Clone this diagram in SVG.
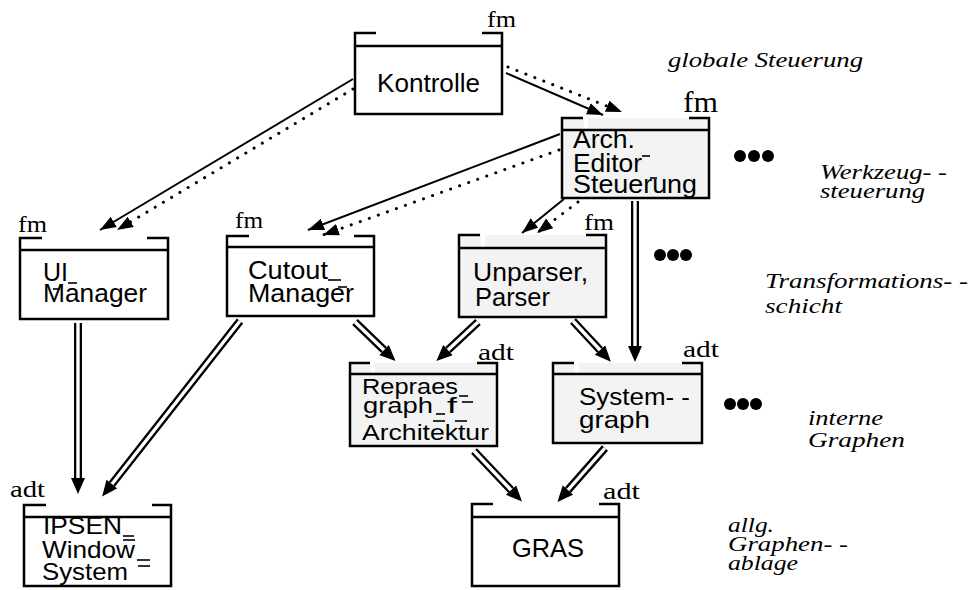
<svg xmlns="http://www.w3.org/2000/svg" width="972" height="590" viewBox="0 0 972 590">
  <defs>
    <style>
      .box { fill: none; stroke: #000; stroke-width: 2.5; }
      .bg-white { fill: #fff; }
      .bg-gray { fill: #f3f3f3; }
      .lbl { font-family: "Liberation Sans", Arial, sans-serif; font-size: 25px; fill: #000; }
      .lbl-s { font-family: "Liberation Sans", Arial, sans-serif; font-size: 22px; fill: #000; }
      .lbl-m { font-family: "Liberation Sans", Arial, sans-serif; font-size: 24px; fill: #000; }
      .tag { font-family: "Liberation Serif", "Times New Roman", serif; font-size: 24px; fill: #000; }
      .tag-l { font-family: "Liberation Serif", "Times New Roman", serif; font-size: 29px; fill: #000; }
      .layer { font-family: "Liberation Serif", "Times New Roman", serif; font-style: italic; font-size: 22px; fill: #000; }
      .mark { stroke: #000; stroke-width: 1.6; }
      .solid { fill: none; stroke: #000; stroke-width: 2; marker-end: url(#head); }
      .dotted { fill: none; stroke: #000; stroke-width: 3; stroke-linecap: round; stroke-dasharray: 0.1 9.5; marker-end: url(#head); }
      .dbl-out { fill: none; stroke: #000; stroke-width: 8; marker-end: url(#dhead); }
      .dbl-in { fill: none; stroke: #fff; stroke-width: 3.4; }
      .dot { fill: #000; }
    </style>
    <marker id="head" markerUnits="userSpaceOnUse" markerWidth="18" markerHeight="14" refX="16" refY="6" orient="auto">
      <path d="M0,0 L16,6 L0,12 z" fill="#000"/>
    </marker>
    <marker id="dhead" markerUnits="userSpaceOnUse" markerWidth="18" markerHeight="16" refX="0" refY="7" orient="auto">
      <path d="M0,0 L16,7 L0,14 z" fill="#000"/>
    </marker>
  </defs>

  <rect width="972" height="590" fill="#fff"/>

  <!-- connectors -->
  <g id="connectors">
    <!-- control flow (solid) and data flow (dotted) -->
    <path class="solid" d="M506,73 L603,115"/>
    <path class="dotted" d="M508,67 L622,112"/>
    <path class="solid" d="M353,79 L100,230"/>
    <path class="dotted" d="M353,89 L117,230"/>
    <path class="solid" d="M560,134 L308,230"/>
    <path class="dotted" d="M559,150 L323,235"/>
    <path class="solid" d="M564,199 L522,233"/>
    <path class="dotted" d="M578,202 L537,233"/>

    <!-- usage relations (double lines) -->
    <path class="dbl-out" d="M635,201 L635,346"/>
    <path class="dbl-in" d="M635,201 L635,346"/>

    <path class="dbl-out" d="M355,322 L384,350"/>
    <path class="dbl-in" d="M355,322 L384,350"/>

    <path class="dbl-out" d="M478,322 L448,350"/>
    <path class="dbl-in" d="M478,322 L448,350"/>

    <path class="dbl-out" d="M573,321 L600,350"/>
    <path class="dbl-in" d="M573,321 L600,350"/>

    <path class="dbl-out" d="M78,323 L78,478"/>
    <path class="dbl-in" d="M78,323 L78,478"/>

    <path class="dbl-out" d="M240,321 L112,484"/>
    <path class="dbl-in" d="M240,321 L112,484"/>

    <path class="dbl-out" d="M474,451 L511,490"/>
    <path class="dbl-in" d="M474,451 L511,490"/>

    <path class="dbl-out" d="M605,448 L568,490"/>
    <path class="dbl-in" d="M605,448 L568,490"/>
  </g>

  <!-- Kontrolle -->
  <g id="kontrolle">
    <rect class="bg-white" x="355" y="33" width="147" height="81"/>
    <path class="box" d="M376,33 H355 V114 H502 V33 H482 M355,46 H502"/>
    <text class="lbl" x="377" y="92" textLength="103" lengthAdjust="spacingAndGlyphs">Kontrolle</text>
    <text class="tag" x="487" y="27" textLength="29" lengthAdjust="spacingAndGlyphs">fm</text>
  </g>

  <!-- Arch. Editor Steuerung -->
  <g id="arch-editor">
    <rect class="bg-gray" x="562" y="118" width="147" height="80"/>
    <rect fill="#fff" x="584" y="117" width="4" height="12"/>
    <path class="box" d="M583,118 H562 V198 H709 V118 H689 M562,130 H709"/>
    <text class="lbl" x="573" y="148" textLength="62" lengthAdjust="spacingAndGlyphs">Arch.</text>
    <text class="lbl" x="573" y="172" textLength="69" lengthAdjust="spacingAndGlyphs">Editor</text>
    <text class="lbl" x="573" y="193" textLength="124" lengthAdjust="spacingAndGlyphs">Steuerung</text>
    <line class="mark" x1="642" y1="156" x2="650" y2="156"/>
    <line class="mark" x1="650" y1="178" x2="657" y2="178"/>
    <text class="tag-l" x="683" y="112" textLength="35" lengthAdjust="spacingAndGlyphs">fm</text>
  </g>

  <!-- UI Manager -->
  <g id="ui-manager">
    <rect class="bg-white" x="20" y="238" width="148" height="81"/>
    <path class="box" d="M42,238 H20 V319 H168 V238 H147 M20,250 H168"/>
    <text class="lbl" x="43" y="281" textLength="25" lengthAdjust="spacingAndGlyphs">UI</text>
    <line class="mark" x1="68" y1="283" x2="77" y2="283"/>
    <text class="lbl" x="43" y="302" textLength="104" lengthAdjust="spacingAndGlyphs">Manager</text>
    <line class="mark" x1="53" y1="289" x2="60" y2="289"/>
    <text class="tag" x="18" y="232" textLength="29" lengthAdjust="spacingAndGlyphs">fm</text>
  </g>

  <!-- Cutout Manager -->
  <g id="cutout-manager">
    <rect class="bg-white" x="227" y="236" width="147" height="80"/>
    <path class="box" d="M249,236 H227 V316 H374 V236 H354 M227,247 H374"/>
    <text class="lbl" x="248" y="279" textLength="80" lengthAdjust="spacingAndGlyphs">Cutout</text>
    <line class="mark" x1="328" y1="280" x2="341" y2="280"/>
    <text class="lbl" x="248" y="302" textLength="106" lengthAdjust="spacingAndGlyphs">Manager</text>
    <line class="mark" x1="338" y1="287" x2="347" y2="287"/>
    <text class="tag" x="235" y="228" textLength="28" lengthAdjust="spacingAndGlyphs">fm</text>
  </g>

  <!-- Unparser, Parser -->
  <g id="unparser">
    <rect class="bg-gray" x="459" y="235" width="147" height="82"/>
    <rect fill="#fff" x="481" y="234" width="4" height="13"/>
    <path class="box" d="M480,235 H459 V317 H606 V235 H586 M459,248 H606"/>
    <text class="lbl" x="473" y="281" textLength="115" lengthAdjust="spacingAndGlyphs">Unparser,</text>
    <text class="lbl" x="475" y="306" textLength="75" lengthAdjust="spacingAndGlyphs">Parser</text>
    <text class="tag" x="584" y="230" textLength="30" lengthAdjust="spacingAndGlyphs">fm</text>
  </g>

  <!-- Repraes graph f Architektur -->
  <g id="repraes-graph">
    <rect class="bg-gray" x="350" y="363" width="147" height="83"/>
    <rect fill="#fff" x="371" y="362" width="4" height="11"/>
    <path class="box" d="M370,363 H350 V446 H497 V363 H477 M350,374 H497"/>
    <text class="lbl-s" x="362" y="394" textLength="96" lengthAdjust="spacingAndGlyphs">Repraes</text>
    <line class="mark" x1="459" y1="396" x2="468" y2="396"/>
    <text class="lbl-s" x="363" y="413" textLength="70" lengthAdjust="spacingAndGlyphs">graph</text>
    <line class="mark" x1="436" y1="414" x2="445" y2="414"/>
    <text class="lbl-s" x="447" y="413" textLength="10" lengthAdjust="spacingAndGlyphs">f</text>
    <line class="mark" x1="462" y1="402" x2="473" y2="402"/>
    <text class="lbl-s" x="362" y="440" textLength="127" lengthAdjust="spacingAndGlyphs">Architektur</text>
    <line class="mark" x1="433" y1="421" x2="445" y2="421"/>
    <line class="mark" x1="455" y1="421" x2="467" y2="421"/>
    <text class="tag" x="478" y="360" textLength="36" lengthAdjust="spacingAndGlyphs">adt</text>
  </g>

  <!-- Systemgraph -->
  <g id="systemgraph">
    <rect class="bg-gray" x="553" y="363" width="149" height="80"/>
    <rect fill="#fff" x="575" y="362" width="4" height="11"/>
    <path class="box" d="M574,363 H553 V443 H702 V363 H682 M553,374 H702"/>
    <text class="lbl-m" x="579" y="405" textLength="111" lengthAdjust="spacingAndGlyphs">System- -</text>
    <text class="lbl-m" x="579" y="428" textLength="71" lengthAdjust="spacingAndGlyphs">graph</text>
    <text class="tag" x="683" y="357" textLength="36" lengthAdjust="spacingAndGlyphs">adt</text>
  </g>

  <!-- IPSEN Window System -->
  <g id="ipsen-window-system">
    <rect class="bg-white" x="24" y="505" width="147" height="81"/>
    <path class="box" d="M46,505 H24 V586 H171 V505 H152 M24,517 H171"/>
    <text class="lbl-m" x="43" y="534" textLength="79" lengthAdjust="spacingAndGlyphs">IPSEN</text>
    <line class="mark" x1="123" y1="536" x2="134" y2="536"/>
    <text class="lbl-m" x="42" y="558" textLength="93" lengthAdjust="spacingAndGlyphs">Window</text>
    <line class="mark" x1="123" y1="540" x2="135" y2="540"/>
    <line class="mark" x1="137" y1="560" x2="150" y2="560"/>
    <text class="lbl-m" x="42" y="580" textLength="86" lengthAdjust="spacingAndGlyphs">System</text>
    <line class="mark" x1="138" y1="566" x2="150" y2="566"/>
    <text class="tag" x="10" y="497" textLength="35" lengthAdjust="spacingAndGlyphs">adt</text>
  </g>

  <!-- GRAS -->
  <g id="gras">
    <rect class="bg-white" x="472" y="504" width="147" height="82"/>
    <path class="box" d="M493,504 H472 V586 H619 V504 H599 M472,517 H619"/>
    <text class="lbl" x="512" y="557" textLength="72" lengthAdjust="spacingAndGlyphs">GRAS</text>
    <text class="tag" x="603" y="499" textLength="37" lengthAdjust="spacingAndGlyphs">adt</text>
  </g>

  <!-- continuation dots -->
  <g id="more">
    <circle class="dot" cx="740" cy="156" r="6"/>
    <circle class="dot" cx="754" cy="156" r="6"/>
    <circle class="dot" cx="768" cy="156" r="6"/>
    <circle class="dot" cx="660" cy="255" r="6"/>
    <circle class="dot" cx="673" cy="255" r="6"/>
    <circle class="dot" cx="686" cy="255" r="6"/>
    <circle class="dot" cx="730" cy="404" r="6"/>
    <circle class="dot" cx="743" cy="404" r="6"/>
    <circle class="dot" cx="756" cy="404" r="6"/>
  </g>

  <!-- layer names -->
  <g id="layers">
    <text class="layer" x="668" y="67" textLength="195" lengthAdjust="spacingAndGlyphs">globale Steuerung</text>
    <text class="layer" x="820" y="179" textLength="127" lengthAdjust="spacingAndGlyphs">Werkzeug- -</text>
    <text class="layer" x="820" y="198" textLength="105" lengthAdjust="spacingAndGlyphs">steuerung</text>
    <text class="layer" x="765" y="288" textLength="203" lengthAdjust="spacingAndGlyphs">Transformations- -</text>
    <text class="layer" x="765" y="313" textLength="77" lengthAdjust="spacingAndGlyphs">schicht</text>
    <text class="layer" x="808" y="425" textLength="75" lengthAdjust="spacingAndGlyphs">interne</text>
    <text class="layer" x="808" y="447" textLength="97" lengthAdjust="spacingAndGlyphs">Graphen</text>
    <text class="layer" x="728" y="532" textLength="46" lengthAdjust="spacingAndGlyphs">allg.</text>
    <text class="layer" x="728" y="551" textLength="120" lengthAdjust="spacingAndGlyphs">Graphen- -</text>
    <text class="layer" x="728" y="570" textLength="70" lengthAdjust="spacingAndGlyphs">ablage</text>
  </g>
</svg>
